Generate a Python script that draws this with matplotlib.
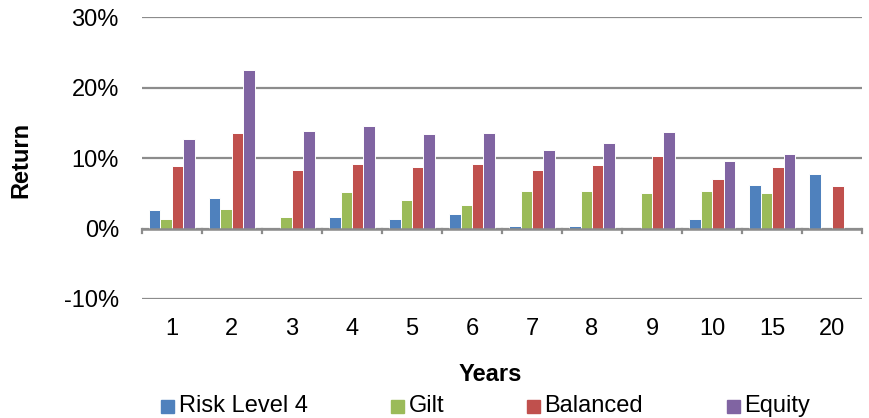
import numpy as np
import matplotlib.pyplot as plt
from matplotlib.patches import Rectangle
from matplotlib.transforms import blended_transform_factory

plt.rcParams['font.family'] = ['Liberation Sans', 'DejaVu Sans']

years = ['1', '2', '3', '4', '5', '6', '7', '8', '9', '10', '15', '20']
risk_level_4 = [2.6, 4.4, np.nan, 1.7, 1.3, 2.0, 0.3, 0.3, np.nan, 1.4, 6.2, 7.8]
gilt = [1.3, 2.8, 1.7, 5.2, 4.1, 3.4, 5.4, 5.3, 5.1, 5.3, 5.0, np.nan]
balanced = [8.9, 13.5, 8.3, 9.2, 8.8, 9.2, 8.3, 9.0, 10.3, 7.1, 8.7, 6.0]
equity = [12.7, 22.5, 13.9, 14.6, 13.4, 13.5, 11.1, 12.2, 13.7, 9.6, 10.6, np.nan]

series = [('Risk Level 4', risk_level_4, '#4F81BD'),
          ('Gilt', gilt, '#9BBB59'),
          ('Balanced', balanced, '#C0504D'),
          ('Equity', equity, '#8064A2')]

fs = 17
fig = plt.figure(figsize=(8.7, 4.18), dpi=100)
ax = fig.add_axes([0.163, 0.2847, 0.828, 0.674])

x = np.arange(len(years))
w = 0.19
for i, (name, vals, col) in enumerate(series):
    ax.bar(x + (i - 1.5) * w, np.array(vals) / 100, w, color=col,
           edgecolor='white', linewidth=0.7, zorder=3)

grid_col = '#8c8c8c'
ax.set_ylim(-0.10, 0.30)
ax.set_xlim(-0.5, len(years) - 0.5)
ax.set_yticks([-0.10, 0.0, 0.10, 0.20, 0.30])
ax.set_yticklabels(['-10%', '0%', '10%', '20%', '30%'], fontsize=fs)
ax.yaxis.grid(True, color=grid_col, linewidth=1.6, zorder=0)
ax.tick_params(axis='y', length=0, pad=16.5)
ax.set_xticks([])
for s in ax.spines.values():
    s.set_visible(False)

# zero line with category boundary ticks
ax.axhline(0, color=grid_col, linewidth=1.8, zorder=4)
for b in np.arange(-0.5, len(years), 1.0):
    ax.plot([b, b], [0, -0.007], color=grid_col, linewidth=1.6,
            clip_on=False, zorder=4)

trans = blended_transform_factory(ax.transData, ax.transAxes)
for xi, lab in zip(x, years):
    ax.text(xi, -0.105, lab, transform=trans, ha='center', va='center', fontsize=fs)

fig.text(0.563, 0.105, 'Years', ha='center', va='center',
         fontsize=fs, fontweight='bold')
fig.text(0.024, 0.618, 'Return', ha='center', va='center', rotation=90,
         fontsize=fs, fontweight='bold')

# legend
box_x = [0.185, 0.449, 0.606, 0.836]
text_x = [0.2057, 0.470, 0.625, 0.855]
for bx, tx, (name, vals, col) in zip(box_x, text_x, series):
    fig.patches.append(Rectangle((bx, 0.012), 0.0149, 0.031, color=col,
                                 transform=fig.transFigure))
    fig.text(tx, 0.029, name, ha='left', va='center', fontsize=fs)

fig.savefig('out.png', dpi=100)
